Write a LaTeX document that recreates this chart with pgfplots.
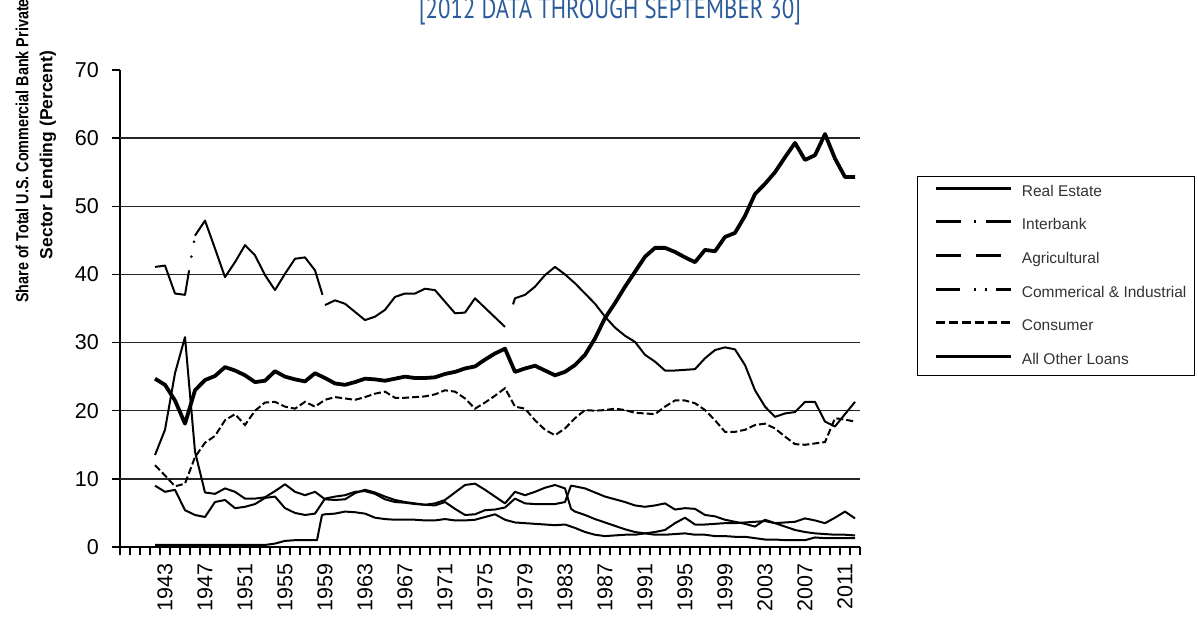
\documentclass[border=0pt]{standalone}
\usepackage{fontspec}
\setmainfont{Liberation Sans}
\newfontfamily\titlefont[FakeStretch=0.8]{PT Sans}
\usepackage{pgfplots}
\pgfplotsset{compat=1.18}
\definecolor{titleblue}{HTML}{2A5B9B}
\begin{document}
\begin{tikzpicture}[x=1pt,y=1pt]
\begin{axis}[
  at={(0pt,0pt)}, anchor=south west,
  scale only axis, width=740pt, height=477pt,
  xmin=1938.5, xmax=2012.5, ymin=0, ymax=70,
  axis x line*=bottom, axis y line*=left,
  axis line style={-, line width=1.5pt, black},
  /pgf/number format/assume math mode=true,
  unbounded coords=jump,
  xtick={1938.5,1939.5,...,2012.5}, xticklabels={},
  extra x ticks={1943,1947,...,2011},
  extra x tick labels={\mbox{1943},\mbox{1947},\mbox{1951},\mbox{1955},\mbox{1959},\mbox{1963},\mbox{1967},\mbox{1971},\mbox{1975},\mbox{1979},\mbox{1983},\mbox{1987},\mbox{1991},\mbox{1995},\mbox{1999},\mbox{2003},\mbox{2007},\mbox{2011}},
  extra x tick style={major tick length=0pt, tick label style={yshift=-16pt, rotate=90, anchor=east, inner sep=0pt}},
  ytick={0,10,...,70},
  extra y ticks={10,20,...,60}, extra y tick labels={},
  extra y tick style={grid=major, major tick length=0pt},
  grid style={line width=1.3pt, black!85},
  tick align=outside, major tick length=8pt,
  tick style={line width=1.3pt, black},
  tick label style={font=\fontsize{21.5}{25}\selectfont},
  yticklabel style={inner sep=0pt, xshift=-13pt},
  clip=false,
  legend style={at={(1.077,0.778)}, anchor=north west, draw=black, line width=1.3pt, fill=white,
    inner xsep=8pt, inner ysep=8pt, row sep=19pt,
    font=\fontsize{15.5}{18}\selectfont,
    nodes={inner sep=0pt, text height=11pt, text depth=3pt, text=black!80}},
  legend cell align=left,
  legend image code/.code={\path (0pt,-3pt) (95pt,7pt); \draw[#1, line width=2.8pt] (10pt,4pt) -- (85pt,4pt);},
]
\addlegendimage{solid}
\addlegendentry{Real Estate}
\addlegendimage{dash pattern=on 25pt off 13pt on 2pt off 10pt}
\addlegendentry{Interbank}
\addlegendimage{dash pattern=on 25pt off 15pt}
\addlegendentry{Agricultural}
\addlegendimage{dash pattern=on 24pt off 14pt on 2pt off 9pt on 2pt off 9pt}
\addlegendentry{Commerical \& Industrial}
\addlegendimage{dash pattern=on 9pt off 4pt}
\addlegendentry{Consumer}
\addlegendimage{solid}
\addlegendentry{All Other Loans}

% Real Estate
\addplot[forget plot, black, line width=3.8pt, line join=round] coordinates {
(1942,24.7)(1943,23.8)(1944,21.5)(1945,18.1)(1946,23.0)(1947,24.5)(1948,25.1)(1949,26.4)(1950,25.9)(1951,25.2)
(1952,24.2)(1953,24.4)(1954,25.8)(1955,25.0)(1956,24.6)(1957,24.3)(1958,25.5)(1959,24.8)(1960,24.0)(1961,23.8)
(1962,24.2)(1963,24.7)(1964,24.6)(1965,24.4)(1966,24.7)(1967,25.0)(1968,24.8)(1969,24.8)(1970,24.9)(1971,25.4)
(1972,25.7)(1973,26.2)(1974,26.5)(1975,27.5)(1976,28.4)(1977,29.1)(1978,25.7)(1979,26.2)(1980,26.6)(1981,25.9)
(1982,25.2)(1983,25.7)(1984,26.7)(1985,28.2)(1986,30.6)(1987,33.6)(1988,35.8)(1989,38.2)(1990,40.4)(1991,42.6)
(1992,43.9)(1993,43.9)(1994,43.3)(1995,42.5)(1996,41.8)(1997,43.6)(1998,43.4)(1999,45.5)(2000,46.1)(2001,48.6)
(2002,51.8)(2003,53.3)(2004,55.0)(2005,57.2)(2006,59.3)(2007,56.8)(2008,57.5)(2009,60.6)(2010,57.0)(2011,54.3)(2012,54.3)};

% Commercial & Industrial
\addplot[forget plot, black, line width=2pt, line join=round] coordinates {
(1942,41.1)(1943,41.3)(1944,37.2)(1945,37.0)(1945.41,40.6)(1945.42,nan)(1946,45.7)(1947,47.9)(1948,43.8)(1949,39.6)
(1950,41.8)(1951,44.3)(1952,42.8)(1953,39.9)(1954,37.7)(1955,40.1)(1956,42.3)(1957,42.5)(1958,40.6)(1958.75,37.0)
(1958.76,nan)(1959,35.5)(1960,36.2)(1961,35.7)(1962,34.5)(1963,33.3)(1964,33.8)(1965,34.8)(1966,36.7)(1967,37.2)
(1968,37.2)(1969,37.9)(1970,37.7)(1971,36.0)(1972,34.3)(1973,34.4)(1974,36.5)(1975,35.1)(1976,33.7)(1977,32.3)
(1977.1,nan)(1977.8,35.6)(1978,36.5)(1979,37.0)(1980,38.2)(1981,39.9)(1982,41.1)(1983,40.0)(1984,38.7)(1985,37.2)
(1986,35.7)(1987,33.8)(1988,32.2)(1989,31.0)(1990,30.1)(1991,28.2)(1992,27.2)(1993,25.9)(1994,25.9)(1995,26.0)
(1996,26.1)(1997,27.7)(1998,28.9)(1999,29.3)(2000,29.0)(2001,26.7)(2002,23.0)(2003,20.6)(2004,19.1)(2005,19.6)
(2006,19.8)(2007,21.3)(2008,21.3)(2009,18.4)(2010,17.7)(2011,19.5)(2012,21.3)};
\addplot[forget plot, only marks, mark=*, mark size=1.1pt, black] coordinates {(1945.64,42.6)(1945.9,44.8)};

% Consumer
\addplot[forget plot, black, line width=2pt, dash pattern=on 7pt off 3pt] coordinates {
(1942,12.0)(1943,10.5)(1944,8.9)(1945,9.3)(1946,13.2)(1947,15.3)(1948,16.3)(1949,18.6)(1950,19.5)(1951,17.9)
(1952,20.0)(1953,21.2)(1954,21.3)(1955,20.6)(1956,20.3)(1957,21.3)(1958,20.6)(1959,21.6)(1960,22.0)(1961,21.8)
(1962,21.6)(1963,22.0)(1964,22.5)(1965,22.8)(1966,21.9)(1967,21.9)(1968,22.0)(1969,22.1)(1970,22.4)(1971,23.0)
(1972,22.8)(1973,21.8)(1974,20.3)(1975,21.2)(1976,22.2)(1977,23.3)(1978,20.6)(1979,20.3)(1980,18.6)(1981,17.2)
(1982,16.4)(1983,17.4)(1984,18.9)(1985,20.1)(1986,20.0)(1987,20.1)(1988,20.3)(1989,20.1)(1990,19.7)(1991,19.6)
(1992,19.5)(1993,20.6)(1994,21.5)(1995,21.5)(1996,21.1)(1997,20.1)(1998,18.6)(1999,16.9)(2000,16.9)(2001,17.2)
(2002,17.9)(2003,18.1)(2004,17.4)(2005,16.2)(2006,15.1)(2007,15.0)(2008,15.2)(2009,15.4)(2010,18.9)(2011,18.7)(2012,18.4)};

% spike line
\addplot[forget plot, black, line width=2pt, line join=round] coordinates {
(1942,13.5)(1943,17.2)(1944,25.5)(1945,30.8)(1946,14.0)(1947,8.0)(1948,7.8)(1949,8.6)(1950,8.1)(1951,7.1)
(1952,7.1)(1953,7.3)(1954,8.2)(1955,9.2)(1956,8.1)(1957,7.6)(1958,8.1)(1959,7.0)(1960,6.9)(1961,7.0)
(1962,7.9)(1963,8.4)(1964,8.0)(1965,7.4)(1966,6.9)(1967,6.6)(1968,6.4)(1969,6.2)(1970,6.4)(1971,6.9)
(1972,8.0)(1973,9.1)(1974,9.3)(1975,8.4)(1976,7.4)(1977,6.4)(1978,8.1)(1979,7.6)(1980,8.1)(1981,8.7)
(1982,9.1)(1983,8.6)(1983.6,5.6)(1984,5.2)(1985,4.7)(1986,4.1)(1987,3.6)(1988,3.1)(1989,2.6)(1990,2.2)
(1991,2.0)(1992,1.8)(1993,1.8)(1994,1.9)(1995,2.0)(1996,1.8)(1997,1.8)(1998,1.6)(1999,1.6)(2000,1.5)
(2001,1.5)(2002,1.3)(2003,1.1)(2004,1.1)(2005,1.0)(2006,1.0)(2007,1.0)(2008,1.4)(2009,1.3)(2010,1.3)(2011,1.3)(2012,1.3)};

% second low line
\addplot[forget plot, black, line width=2pt, line join=round] coordinates {
(1942,9.0)(1943,8.1)(1944,8.4)(1945,5.4)(1946,4.7)(1947,4.4)(1948,6.6)(1949,6.9)(1950,5.7)(1951,5.9)
(1952,6.3)(1953,7.2)(1954,7.4)(1955,5.7)(1956,5.0)(1957,4.7)(1958,4.9)(1959,7.1)(1960,7.4)(1961,7.6)
(1962,8.1)(1963,8.2)(1964,7.8)(1965,7.0)(1966,6.6)(1967,6.5)(1968,6.3)(1969,6.2)(1970,6.1)(1971,6.6)
(1972,5.6)(1973,4.7)(1974,4.8)(1975,5.4)(1976,5.5)(1977,5.8)(1978,7.1)(1979,6.4)(1980,6.3)(1981,6.3)
(1982,6.3)(1983,6.6)(1983.6,9.0)(1984,8.9)(1985,8.6)(1986,8.0)(1987,7.4)(1988,7.0)(1989,6.6)(1990,6.1)
(1991,5.9)(1992,6.1)(1993,6.4)(1994,5.5)(1995,5.7)(1996,5.6)(1997,4.7)(1998,4.5)(1999,4.0)(2000,3.7)
(2001,3.4)(2002,3.0)(2003,4.0)(2004,3.5)(2005,3.6)(2006,3.7)(2007,4.2)(2008,3.9)(2009,3.5)(2010,4.3)(2011,5.2)(2012,4.2)};

% bottom line
\addplot[forget plot, black, line width=2pt, line join=round] coordinates {
(1942,0.3)(1943,0.3)(1944,0.3)(1945,0.3)(1946,0.3)(1947,0.3)(1948,0.3)(1949,0.3)(1950,0.3)(1951,0.3)
(1952,0.3)(1953,0.3)(1954,0.5)(1955,0.9)(1956,1.0)(1957,1.0)(1958.2,1.0)(1958.7,4.7)(1959,4.8)(1960,4.9)
(1961,5.2)(1962,5.1)(1963,4.9)(1964,4.3)(1965,4.1)(1966,4.0)(1967,4.0)(1968,4.0)(1969,3.9)(1970,3.9)
(1971,4.1)(1972,3.9)(1973,3.9)(1974,4.0)(1975,4.4)(1976,4.8)(1977,4.0)(1978,3.6)(1979,3.5)(1980,3.4)
(1981,3.3)(1982,3.2)(1983,3.3)(1984,2.8)(1985,2.2)(1986,1.8)(1987,1.6)(1988,1.7)(1989,1.8)(1990,1.8)
(1991,2.0)(1992,2.2)(1993,2.5)(1994,3.5)(1995,4.3)(1996,3.3)(1997,3.3)(1998,3.4)(1999,3.5)(2000,3.5)
(2001,3.6)(2002,3.7)(2003,3.8)(2004,3.5)(2005,3.0)(2006,2.5)(2007,2.2)(2008,2.0)(2009,1.9)(2010,1.8)(2011,1.8)(2012,1.7)};
\end{axis}
\node[anchor=base, text=titleblue, font=\titlefont\fontsize{28.5}{28}\selectfont] at (490pt,528pt) {[2012 DATA THROUGH SEPTEMBER 30]};
\node[rotate=90, inner sep=0pt, font=\bfseries\fontsize{17.5}{20}\selectfont] at (-98pt,396pt) {\scalebox{0.82}[1]{Share of Total U.S. Commercial Bank Private}};
\node[rotate=90, inner sep=0pt, font=\bfseries\fontsize{17.5}{20}\selectfont] at (-72pt,392pt) {Sector Lending (Percent)};
\pgfresetboundingbox
\useasboundingbox (-120pt,-69pt) rectangle (1078pt,547pt);
\end{tikzpicture}
\end{document}
